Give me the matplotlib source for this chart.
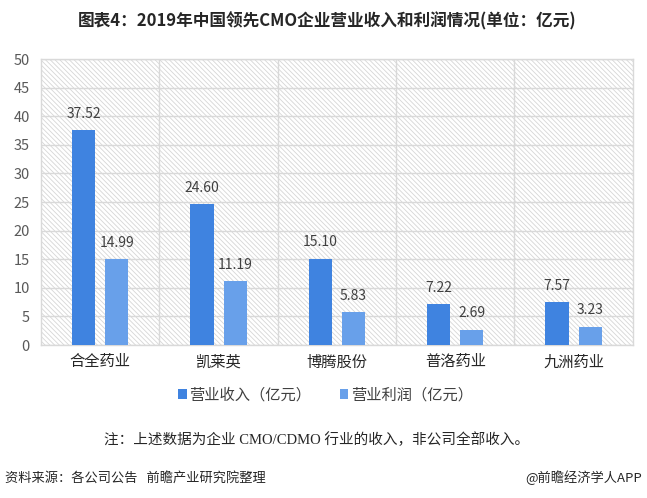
import matplotlib
matplotlib.use("Agg")
import matplotlib.pyplot as plt
import numpy as np
from matplotlib.patches import Rectangle

plt.rcParams['font.family'] = ['Noto Sans CJK SC', 'DejaVu Sans']
plt.rcParams['hatch.linewidth'] = 0.6
plt.rcParams['hatch.color'] = '#d6d6d6'

categories = ['合全药业', '凯莱英', '博腾股份', '普洛药业', '九洲药业']
revenue = [37.52, 24.60, 15.10, 7.22, 7.57]
profit = [14.99, 11.19, 5.83, 2.69, 3.23]
series_names = ['营业收入（亿元）', '营业利润（亿元）']
yticks = [0, 5, 10, 15, 20, 25, 30, 35, 40, 45, 50]

c_rev = '#3f83e0'
c_pro = '#68a0ea'

fig = plt.figure(figsize=(6.47, 4.98), dpi=100)
ax = fig.add_axes([0.0634, 0.3072, 0.9146, 0.5743])
ax.set_facecolor('white')
bg = Rectangle((0, 0), 1, 1, transform=ax.transAxes, facecolor='white',
               hatch='\\' * 7, edgecolor='#d6d6d6', linewidth=0, zorder=0)
ax.add_patch(bg)

x = np.arange(len(categories))
w = 0.195
off = 0.14
b1 = ax.bar(x - off, revenue, w, color=c_rev, zorder=3, label=series_names[0])
b2 = ax.bar(x + off, profit, w, color=c_pro, zorder=3, label=series_names[1])
for bars, vals in ((b1, revenue), (b2, profit)):
    for b, v in zip(bars, vals):
        ax.text(b.get_x() + b.get_width() / 2, v + 1.6, f'{v:.2f}', ha='center',
                va='bottom', fontsize=10, color='#404040', zorder=4)

ax.set_xlim(-0.5, len(categories) - 0.5)
ax.set_ylim(0, 50)
ax.set_yticks(yticks)
ax.set_yticklabels([str(t) for t in yticks], fontsize=10.5, color='#595959')
ax.set_xticks(x)
ax.set_xticklabels(categories, fontsize=11, color='#262626')
ax.tick_params(axis='both', length=0)
ax.tick_params(axis='y', pad=8)
ax.tick_params(axis='x', pad=6)
ax.yaxis.grid(True, color='#d9d9d9', linewidth=1, zorder=1)
for b in np.arange(0.5, len(categories) - 0.5, 1):
    ax.axvline(b, color='#d9d9d9', linewidth=1, zorder=1)
for s in ax.spines.values():
    s.set_color('#d9d9d9')
    s.set_linewidth(1)
ax.set_axisbelow(True)

leg = fig.legend(handles=[b1, b2], labels=series_names, loc='center',
                 bbox_to_anchor=(0.503, 0.207), ncol=2, frameon=False,
                 fontsize=11, handlelength=0.55, handleheight=0.55,
                 handletextpad=0.15, columnspacing=1.9, labelcolor='#404040')

fig.text(0.505, 0.958, '图表4：2019年中国领先CMO企业营业收入和利润情况(单位：亿元)',
         ha='center', va='center', fontsize=12, fontweight='bold', color='#262626')
fig.text(0.49, 0.118, '注：上述数据为企业 CMO/CDMO 行业的收入，非公司全部收入。',
         ha='center', va='center', fontsize=10.5, color='#262626',
         family=['Liberation Serif', 'Noto Sans CJK SC'])
fig.text(0.008, 0.04, '资料来源：各公司公告   前瞻产业研究院整理', ha='left', va='center',
         fontsize=9.5, color='#262626')
fig.text(0.992, 0.04, '@前瞻经济学人APP', ha='right', va='center',
         fontsize=9.5, color='#262626')

fig.savefig('out.png', dpi=100)
